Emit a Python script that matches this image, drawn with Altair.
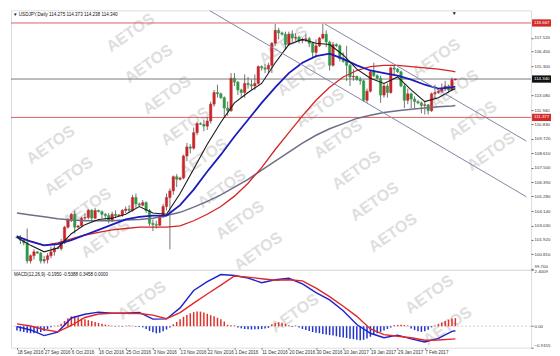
import altair as alt
import pandas as pd

# ---------------- data ----------------
label_idx = list(range(0, 121, 8))
label_txt = ["18 Sep 2016", "27 Sep 2016", "6 Oct 2016", "16 Oct 2016", "25 Oct 2016",
             "3 Nov 2016", "13 Nov 2016", "22 Nov 2016", "1 Dec 2016", "11 Dec 2016",
             "20 Dec 2016", "30 Dec 2016", "10 Jan 2017", "19 Jan 2017", "29 Jan 2017",
             "7 Feb 2017"]

o = [102.15, 102.10, 101.90, 101.70, 100.30, 100.70, 101.00, 100.90, 100.30, 100.40,
     100.70, 101.00, 101.30, 101.25, 101.70, 102.90, 103.50, 103.90, 102.90, 103.00,
     103.60, 103.65, 104.20, 103.60, 104.20, 104.10, 103.90, 103.80, 103.40, 103.90,
     103.80, 103.85, 104.20, 104.30, 104.20, 105.20, 104.70, 104.60, 104.80, 104.20,
     103.20, 103.10, 103.05, 103.70, 104.50, 105.20, 105.70, 106.80, 106.60, 106.70,
     108.40, 109.10, 109.00, 110.20, 110.90, 110.85, 110.70, 111.10, 112.40, 113.30,
     113.20, 112.90, 112.10, 111.90, 114.40, 114.10, 113.50, 113.30, 114.00, 113.90,
     113.80, 114.00, 115.30, 115.20, 115.10, 115.40, 117.10, 118.10, 117.90, 117.80,
     117.00, 117.80, 117.50, 117.55, 117.30, 117.40, 117.45, 117.10, 116.40, 116.90,
     117.50, 117.80, 117.20, 115.40, 117.00, 116.90, 115.90, 115.70, 115.40, 114.50,
     114.55, 114.30, 114.20, 112.70, 113.40, 114.90, 114.60, 114.40, 113.10, 113.80,
     113.30, 115.20, 115.10, 114.90, 113.80, 112.70, 113.20, 112.80, 112.60, 112.50,
     112.30, 112.35, 111.90, 113.20, 113.30, 113.40, 113.60, 113.80, 113.50, 114.275]
h = [102.25, 102.30, 102.00, 102.80, 100.80, 101.20, 101.05, 101.00, 100.70, 100.90,
     101.40, 101.60, 101.40, 102.00, 103.00, 103.60, 104.00, 104.20, 103.05, 103.70,
     104.00, 104.30, 104.30, 104.40, 104.25, 104.20, 104.00, 104.00, 104.10, 104.20,
     103.90, 104.30, 104.50, 104.60, 105.40, 105.50, 104.80, 105.00, 104.90, 104.30,
     103.50, 103.40, 103.80, 104.70, 105.50, 105.90, 106.90, 107.00, 106.80, 108.50,
     109.40, 109.30, 110.60, 111.00, 111.00, 111.20, 111.40, 112.60, 113.50, 113.90,
     113.30, 113.00, 112.60, 114.80, 114.80, 114.20, 113.60, 114.70, 114.50, 114.30,
     114.70, 115.40, 115.40, 115.50, 115.60, 117.20, 118.60, 118.30, 118.00, 118.00,
     118.00, 118.10, 117.90, 117.70, 117.50, 117.80, 117.60, 117.20, 117.40, 117.60,
     118.60, 118.10, 117.30, 117.20, 117.10, 117.00, 116.40, 116.90, 115.50, 115.10,
     114.60, 114.50, 114.30, 113.60, 115.00, 115.60, 114.70, 114.60, 114.00, 114.00,
     115.30, 115.40, 115.20, 115.00, 114.00, 113.60, 113.30, 113.00, 112.70, 112.60,
     112.60, 112.40, 113.30, 113.90, 113.50, 114.00, 114.20, 113.90, 114.45, 114.373]
l = [102.05, 101.60, 101.50, 100.10, 100.10, 100.40, 100.85, 100.10, 100.10, 100.10,
     100.50, 100.70, 101.20, 101.10, 101.60, 102.80, 103.30, 102.40, 102.85, 102.90,
     103.40, 103.50, 103.30, 103.50, 104.05, 103.60, 103.50, 103.20, 103.30, 103.60,
     103.75, 103.70, 104.00, 104.00, 104.10, 104.40, 104.55, 104.50, 104.00, 103.00,
     102.60, 102.80, 103.00, 103.60, 104.20, 101.20, 105.40, 106.00, 106.50, 106.60,
     108.00, 108.60, 108.90, 110.00, 110.80, 110.30, 110.40, 110.90, 112.20, 112.90,
     112.80, 111.40, 111.50, 111.80, 113.80, 113.10, 112.90, 112.90, 113.60, 113.50,
     113.50, 113.90, 115.00, 114.80, 114.80, 114.80, 116.90, 117.40, 117.70, 116.60,
     116.90, 117.20, 117.30, 117.10, 117.10, 117.20, 116.80, 116.00, 116.00, 116.80,
     117.40, 116.80, 115.00, 115.30, 116.80, 115.70, 115.60, 114.20, 113.80, 114.20,
     114.20, 113.90, 112.60, 112.50, 113.30, 114.50, 114.30, 112.50, 112.90, 112.90,
     113.20, 114.60, 114.80, 113.70, 112.10, 112.40, 112.10, 112.10, 112.40, 111.70,
     111.60, 111.60, 111.80, 112.80, 113.20, 113.30, 113.40, 113.30, 113.40, 114.238]
c = [102.10, 101.90, 101.70, 100.30, 100.70, 101.00, 100.90, 100.30, 100.40, 100.70,
     101.00, 101.30, 101.25, 101.70, 102.90, 103.50, 103.90, 102.90, 103.00, 103.60,
     103.65, 104.20, 103.60, 104.20, 104.10, 103.90, 103.80, 103.40, 103.90, 103.80,
     103.85, 104.20, 104.30, 104.20, 105.20, 104.70, 104.60, 104.80, 104.20, 103.20,
     103.10, 103.05, 103.70, 104.50, 105.20, 105.70, 106.80, 106.60, 106.70, 108.40,
     109.10, 109.00, 110.20, 110.90, 110.85, 110.70, 111.10, 112.40, 113.30, 113.20,
     112.90, 112.10, 111.90, 114.40, 114.10, 113.50, 113.30, 114.00, 113.90, 113.80,
     114.00, 115.30, 115.20, 115.10, 115.40, 117.10, 118.10, 117.90, 117.80, 117.00,
     117.80, 117.50, 117.55, 117.30, 117.40, 117.45, 117.10, 116.40, 116.90, 117.50,
     117.80, 117.20, 115.40, 117.00, 116.90, 115.90, 115.70, 115.40, 114.50, 114.55,
     114.30, 114.20, 112.70, 113.40, 114.90, 114.60, 114.40, 113.10, 113.80, 113.30,
     115.20, 115.10, 114.90, 113.80, 112.70, 113.20, 112.80, 112.60, 112.50, 112.30,
     112.35, 111.90, 113.20, 113.30, 113.40, 113.60, 113.80, 113.50, 114.30, 114.340]

ma_idx = list(range(0, 129, 4)) + [129]
ma_black = [102.1, 101.5, 101.0, 101.3, 102.4, 103.1, 103.5, 103.6, 103.9, 104.5, 104.0, 103.9,
            105.5, 107.4, 109.3, 111.0, 112.5, 113.3, 114.0, 115.6, 117.0, 117.4, 117.1, 117.0,
            116.2, 115.1, 114.4, 114.0, 114.5, 113.5, 112.6, 112.9, 113.5, 113.6]
ma_blue = [102.2, 101.8, 101.5, 101.6, 101.9, 102.3, 102.7, 103.1, 103.5, 103.7, 103.8, 103.8,
           104.6, 105.8, 107.2, 108.5, 109.9, 111.2, 112.5, 113.7, 114.8, 115.6, 116.1, 116.3,
           115.9, 115.4, 115.0, 114.8, 114.6, 114.3, 113.9, 113.6, 113.7, 113.75]
ma_red = [102.2, 101.8, 101.5, 101.7, 102.0, 102.3, 102.5, 102.7, 102.8, 102.9, 102.9, 102.9,
          103.0, 103.4, 103.9, 104.5, 105.3, 106.3, 107.5, 108.9, 110.2, 111.5, 112.7, 113.7,
          114.5, 115.0, 115.3, 115.4, 115.4, 115.3, 115.2, 115.1, 114.95, 114.9]
ma_grey = [104.0, 103.85, 103.7, 103.55, 103.45, 103.4, 103.4, 103.4, 103.45, 103.5, 103.6, 103.8,
           104.05, 104.45, 104.9, 105.4, 106.0, 106.6, 107.3, 108.0, 108.7, 109.4, 110.0, 110.5,
           110.9, 111.3, 111.55, 111.75, 111.9, 112.0, 112.1, 112.2, 112.25, 112.3]

macd_main = [-0.02, -0.16, -0.40, -0.25, 0.35, 0.51, 0.60, 0.55, 0.55, 0.59, 0.30, 0.31,
             0.78, 1.52, 1.90, 2.20, 2.16, 2.05, 1.85, 1.98, 2.04, 1.80, 1.43, 1.12,
             0.66, 0.07, -0.30, -0.49, -0.38, -0.54, -0.67, -0.52, -0.22, -0.195]
macd_signal = [0.10, 0.01, -0.14, -0.24, 0.03, 0.37, 0.52, 0.55, 0.55, 0.54, 0.47, 0.32,
               0.58, 0.98, 1.37, 1.75, 2.14, 2.09, 2.02, 1.96, 1.98, 1.93, 1.62, 1.26,
               0.85, 0.42, -0.12, -0.36, -0.43, -0.49, -0.60, -0.59, -0.55, -0.539]
macd_hist = [-0.18, -0.22, -0.25, -0.28, -0.30, -0.30, -0.28, -0.25, -0.20, -0.12,
             -0.04, 0.02, 0.03,
             0.10, 0.22, 0.34, 0.42, 0.42, 0.38, 0.33, 0.30, 0.26, 0.22,
             0.18, 0.14, 0.10, 0.07, 0.04,
             0.02, -0.02, 0.02, -0.02, 0.02, 0.03, 0.02, -0.02, -0.03, -0.05,
             -0.12, -0.20, -0.26, -0.30, -0.28, -0.22, -0.14, -0.05,
             0.08, 0.18, 0.30, 0.40, 0.48, 0.55, 0.60, 0.63, 0.62, 0.58, 0.53, 0.47, 0.42, 0.36, 0.30, 0.20,
             0.06, 0.04, 0.03,
             -0.05, -0.09, -0.12, -0.13, -0.14, -0.13, -0.13, -0.12, -0.10, -0.07,
             0.08, 0.14, 0.17, 0.15, 0.10,
             0.04, -0.03, 0.03, -0.05,
             -0.12, -0.16, -0.20, -0.25, -0.28, -0.30, -0.33, -0.35, -0.38, -0.40,
             -0.43, -0.46, -0.48, -0.50, -0.53, -0.55, -0.58, -0.60, -0.58, -0.52,
             -0.45, -0.38, -0.30, -0.24, -0.18, -0.12, -0.06,
             0.04, 0.05, 0.06, 0.05, 0.03,
             -0.10, -0.16, -0.21, -0.24, -0.22, -0.15,
             -0.05, 0.03,
             0.10, 0.16, 0.22, 0.28, 0.33, 0.3458]

price_ticks = [117.52, 116.45, 115.30, 113.08, 111.94, 110.83, 109.72, 108.61, 107.50,
               106.39, 105.28, 104.14, 103.03, 101.92, 100.81, 99.70]
macd_ticks = [2.4009, 0.0, -0.9155]
level_vals = [118.667, 114.340, 111.377]
level_cols = ["#e06060", "#7a7a7a", "#e06060"]
level_box = ["#d42a2a", "#111111", "#d42a2a"]

chan_i = [56.7, 149.9, 90.6, 149.9]
chan_p = [119.62, 105.25, 118.59, 109.55]
chan_g = ["a", "a", "b", "b"]

header = "\u25bc USDJPY,Daily  114.275 114.373 114.238 114.340"
macd_header = "MACD(12,26,9) -0.1950 -0.5388 0.3458 0.0000"

# ---------------- layout ----------------
W, H1, H2 = 521, 260, 78
XD = [-0.29, 149.8]
PD = [99.61, 119.645]
MD = [-0.9155, 2.4009]
FONT = "Liberation Sans"
UP, DOWN = "#c8262c", "#2f9a45"
HPOS, HNEG = "#e0302a", "#2233cc"

xs = alt.Scale(domain=XD, nice=False, zero=False)
ys = alt.Scale(domain=PD, nice=False, zero=False)
ms = alt.Scale(domain=MD, nice=False, zero=False)

yax = alt.Axis(orient="right", values=price_ticks, format=".3f", title=None, grid=False,
               domain=False, tickSize=2, labelPadding=1, labelFontSize=4.4, labelColor="#333",
               labelOverlap=False, labelFont=FONT, tickColor="#666",
               labelBaseline={"condition": {"test": "datum.value < 100", "value": "bottom"},
                              "value": "middle"})
max_ = alt.Axis(orient="right", values=macd_ticks, title=None, grid=False, domain=False,
                tickSize=2, labelPadding=1, labelFontSize=4.4, labelColor="#333", labelFlush=True,
                labelOverlap=False, labelFont=FONT, tickColor="#666",
                labelExpr="datum.value == 0 ? '0.00' : format(datum.value, '.4f')")
lab_js = "[" + ",".join("'%s'" % t for t in label_txt) + "]"
xax = alt.Axis(values=label_idx, labelExpr=lab_js + "[round(datum.value / 8)]", title=None,
               grid=False, domain=False, tickSize=1.5, labelPadding=0.5, labelFontSize=4.6,
               labelColor="#333", labelAlign="left", labelBaseline="top", labelOverlap=False,
               labelFlush=False, labelFont=FONT, tickColor="#666")
xnone = alt.X("i:Q", scale=xs, axis=None)

# watermark lattice (decoration; diagonal chains of the reference, in reference pixels,
# mapped to data space; only the ones lying wholly inside a panel are kept)
wm_p, wm_m = [], []
for k in range(-1, 5):
    c0 = -45 + 153 * k
    ph = (11 + 13 * k) % 32
    for n in range(-1, 12):
        yr = ph + 32 * n
        xr = c0 + 0.6 * yr
        if 25 <= xr <= 516:
            ii = (xr - 3) / 3.575
            if 19 <= yr <= 249:
                wm_p.append({"i": ii, "v": 118.667 - (yr - 14) / 13.27, "t": "AETOS"})
            elif 286 <= yr <= 329:
                wm_m.append({"i": ii, "v": (325 - yr) / 23.74, "t": "AETOS"})
wm_style = dict(font=FONT, fontSize=16, fontWeight="bold", angle=325, color="#dedede",
                clip=True, align="center", baseline="middle")

# ---------------- price panel ----------------
candles = pd.DataFrame({"i": list(range(len(c))), "o": o, "h": h, "l": l, "c": c})
base = alt.Chart(candles).transform_calculate(
    bot="min(datum.o, datum.c)", top="max(datum.o, datum.c)",
    col="datum.c >= datum.o ? '%s' : '%s'" % (UP, DOWN))

wicks = base.mark_rule(color="#505050", strokeWidth=0.8).encode(
    x=xnone, y=alt.Y("l:Q", scale=ys, axis=yax), y2="h:Q")
bodies = base.mark_bar(size=2.4, strokeWidth=0.5).encode(
    x=xnone, y=alt.Y("bot:Q", scale=ys, axis=yax), y2="top:Q",
    color=alt.Color("col:N", scale=None), stroke=alt.Stroke("col:N", scale=None))

wm_price = alt.Chart(pd.DataFrame(wm_p)).mark_text(**wm_style).encode(
    x=xnone, y=alt.Y("v:Q", scale=ys, axis=yax), text="t:N")

levels = pd.DataFrame({"v": level_vals, "col": level_cols, "box": level_box,
                       "txt": ["%.3f" % v for v in level_vals]})
hlines = alt.Chart(levels).mark_rule(strokeWidth=1).encode(
    y=alt.Y("v:Q", scale=ys, axis=yax), color=alt.Color("col:N", scale=None))

ma_df = pd.DataFrame({"i": ma_idx, "k": ma_black, "b": ma_blue, "r": ma_red, "g": ma_grey})


def ma_line(field, color, width):
    return alt.Chart(ma_df).mark_line(color=color, strokeWidth=width).encode(
        x=xnone, y=alt.Y(field + ":Q", scale=ys, axis=yax))


chan = alt.Chart(pd.DataFrame({"i": chan_i, "p": chan_p, "g": chan_g})).mark_line(
    color="#8585a5", strokeWidth=1, clip=True).encode(
    x=xnone, y=alt.Y("p:Q", scale=ys, axis=yax), detail="g:N")

head = alt.Chart(pd.DataFrame({"t": [header]})).mark_text(
    align="left", baseline="middle", fontSize=4.6, font=FONT, color="#111").encode(
    x=alt.value(2), y=alt.value(5), text="t:N")
shift = alt.Chart(pd.DataFrame({"i": [128.7], "t": ["\u25bc"]})).mark_text(
    fontSize=5, color="#111", baseline="middle").encode(
    x=xnone, y=alt.value(3), text="t:N")

box_base = alt.Chart(levels).transform_calculate(
    lo="datum.v - 0.28", hi="datum.v + 0.28")
boxes = box_base.mark_rect().encode(
    x=alt.value(W + 1), x2=alt.value(W + 20),
    y=alt.Y("hi:Q", scale=ys, axis=yax), y2="lo:Q",
    color=alt.Color("box:N", scale=None))
box_txt = alt.Chart(levels).mark_text(
    align="left", baseline="middle", fontSize=4.4, font=FONT, color="white").encode(
    x=alt.value(W + 3), y=alt.Y("v:Q", scale=ys, axis=yax), text="txt:N")

price = alt.layer(
    wm_price, hlines, wicks, bodies,
    ma_line("g", "#6e6e86", 1.5), ma_line("r", "#d42424", 1.3),
    ma_line("b", "#1c1cbe", 1.8), ma_line("k", "#1a1a1a", 1.1),
    chan, head, shift, boxes, box_txt
).properties(width=W, height=H1)

# ---------------- MACD panel ----------------
xm = alt.X("i:Q", scale=xs, axis=xax)
hist_df = pd.DataFrame({"i": list(range(len(macd_hist))), "v": macd_hist})
hist = alt.Chart(hist_df).transform_calculate(
    col="datum.v >= 0 ? '%s' : '%s'" % (HPOS, HNEG)).mark_bar(size=1.5).encode(
    x=xm, y=alt.Y("v:Q", scale=ms, axis=max_), y2=alt.datum(0),
    color=alt.Color("col:N", scale=None))
zero = alt.Chart(pd.DataFrame({"z": [0.0]})).mark_rule(
    color="#c4c4c4", strokeWidth=0.8, strokeDash=[2, 2]).encode(
    y=alt.Y("z:Q", scale=ms, axis=max_))
md = pd.DataFrame({"i": ma_idx, "m": macd_main, "s": macd_signal})
m_line = alt.Chart(md).mark_line(color="#2020cc", strokeWidth=1.4).encode(
    x=xm, y=alt.Y("m:Q", scale=ms, axis=max_))
s_line = alt.Chart(md).mark_line(color="#e02828", strokeWidth=1.4).encode(
    x=xm, y=alt.Y("s:Q", scale=ms, axis=max_))
wm_macd = alt.Chart(pd.DataFrame(wm_m)).mark_text(**wm_style).encode(
    x=xm, y=alt.Y("v:Q", scale=ms, axis=max_), text="t:N")
mhead = alt.Chart(pd.DataFrame({"t": [macd_header]})).mark_text(
    align="left", baseline="middle", fontSize=4.5, font=FONT, color="#111").encode(
    x=alt.value(3), y=alt.value(5), text="t:N")

macd = alt.layer(wm_macd, zero, hist, m_line, s_line, mhead).properties(width=W, height=H2)

chart = alt.vconcat(price, macd, spacing=0).properties(
    padding={"left": 2, "top": 1, "right": 0, "bottom": 0}, bounds="flush"
).configure_view(stroke="#8c8c8c", strokeWidth=1.5).configure(background="white")

chart.save("out.html", embed_options={"renderer": "svg", "actions": False})
